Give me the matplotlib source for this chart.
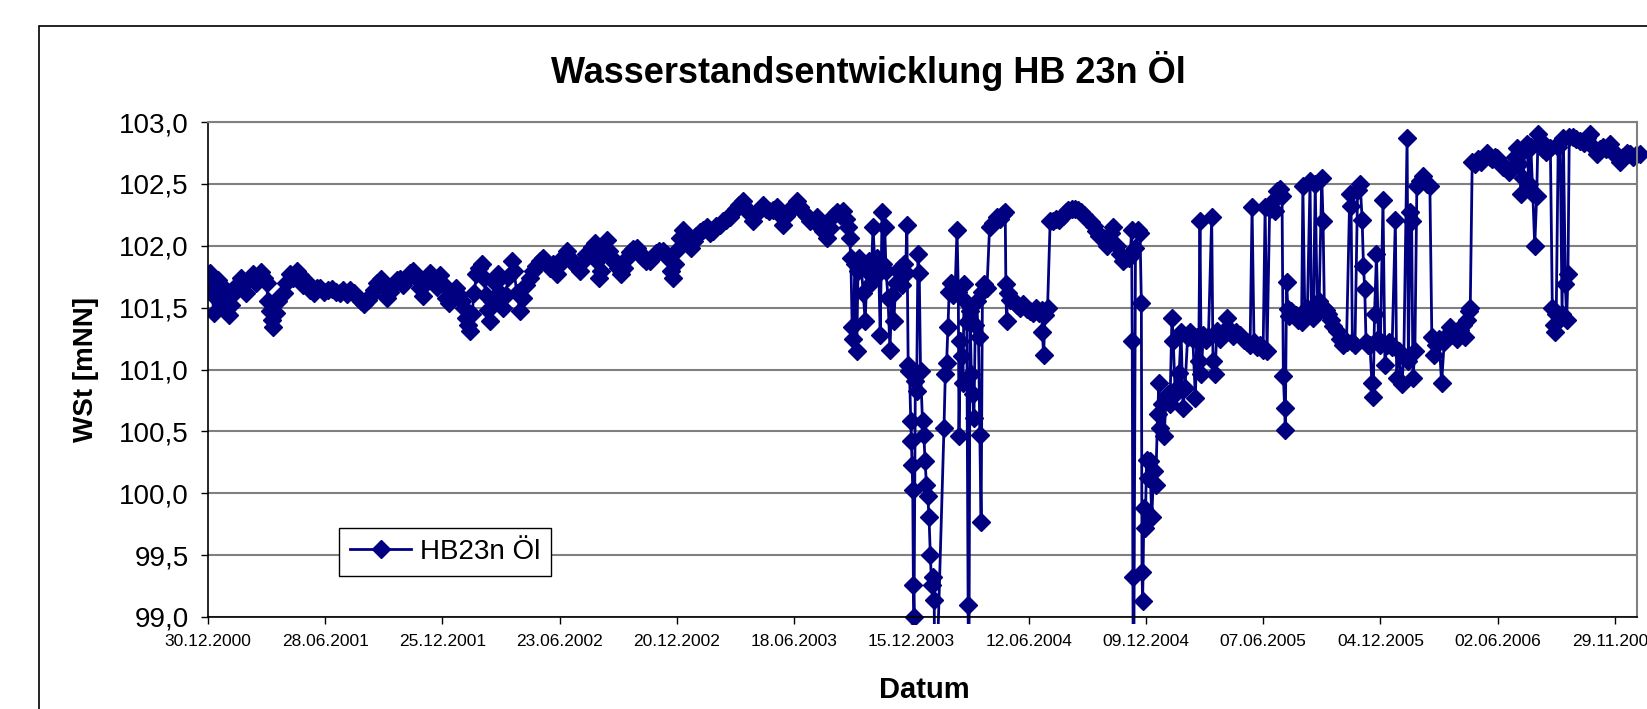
import matplotlib
matplotlib.use('Agg')
import matplotlib.pyplot as plt
import matplotlib.dates as mdates
from matplotlib.patches import Rectangle
from matplotlib.ticker import FuncFormatter
import pandas as pd

start = pd.Timestamp('2000-12-30')

# Tage seit 30.12.2000 / Wasserstand [mNN]
tage_1 = [0, 3, 6, 9, 12, 16, 20, 24, 28, 32, 36, 40, 45, 50, 54, 58, 63, 69, 74, 78,
          82, 86, 90, 92, 95, 98, 100, 104, 108, 112, 116, 120, 126, 131, 136, 141, 146, 152, 157, 162,
          167, 172, 178, 184, 190, 196, 202, 208, 213, 218, 224, 230, 235, 240, 245, 250, 255, 260, 265, 270,
          275, 280, 285, 290, 295, 300, 305, 310, 315, 320, 325, 330, 335, 341, 346, 351, 356, 360, 365]
wst_1 = [101.69, 101.78, 101.62, 101.46, 101.58, 101.72, 101.55, 101.50, 101.64, 101.44,
         101.52, 101.62, 101.68, 101.74, 101.70, 101.62, 101.73, 101.77, 101.70, 101.75,
         101.79, 101.74, 101.70, 101.55, 101.47, 101.40, 101.34, 101.46, 101.55, 101.60,
         101.62, 101.70, 101.77, 101.74, 101.80, 101.76, 101.68, 101.71, 101.64, 101.62,
         101.66, 101.66, 101.63, 101.64, 101.65, 101.63, 101.62, 101.64, 101.61, 101.64,
         101.62, 101.58, 101.55, 101.53, 101.56, 101.60, 101.64, 101.70, 101.73, 101.66,
         101.58, 101.63, 101.68, 101.72, 101.73, 101.68, 101.74, 101.78, 101.80, 101.74,
         101.66, 101.59, 101.70, 101.78, 101.72, 101.67, 101.76, 101.70, 101.58]

tage_2 = [370, 375, 380, 385, 390, 393, 396, 399, 402, 405, 409, 412, 416, 420, 423, 427, 430, 433, 436, 440,
          445, 449, 453, 457, 461, 466, 470, 474, 479, 483, 488, 494, 499, 504, 509, 515, 520, 525, 530, 536,
          541, 546, 551, 556, 561, 566, 571, 576, 581, 586, 590, 594, 597, 600, 603, 607, 612, 616, 620, 625,
          630, 634, 638, 643, 648, 653, 658, 663, 668, 673, 678, 683, 688, 693, 698, 703, 707, 711, 714, 717,
          721, 725, 729]
wst_2 = [101.54, 101.62, 101.66, 101.60, 101.55, 101.50, 101.42, 101.36, 101.31, 101.45,
         101.62, 101.77, 101.82, 101.85, 101.74, 101.60, 101.48, 101.39, 101.55, 101.70,
         101.77, 101.62, 101.50, 101.60, 101.75, 101.88, 101.80, 101.62, 101.47, 101.58,
         101.68, 101.74, 101.80, 101.84, 101.88, 101.90, 101.86, 101.82, 101.85, 101.77,
         101.85, 101.92, 101.96, 101.90, 101.86, 101.83, 101.80, 101.88, 101.93, 101.96,
         101.99, 102.02, 101.88, 101.74, 101.80, 101.95, 102.05, 101.96, 101.90, 101.86,
         101.82, 101.77, 101.82, 101.90, 101.95, 101.97, 101.98, 101.94, 101.90, 101.88,
         101.88, 101.91, 101.94, 101.96, 101.96, 101.93, 101.90, 101.80, 101.74, 101.85,
         101.97, 102.06, 102.13]

tage_3 = [733, 738, 742, 746, 750, 755, 760, 766, 770, 775, 780, 786, 791, 796, 801, 806, 811, 816, 822, 827,
          832, 837, 842, 847, 852, 857, 862, 868, 873, 878, 883, 888, 893, 898, 904, 909, 914, 919, 924, 930,
          935, 940, 945, 950, 955, 960, 965, 970, 975, 979, 983]
wst_3 = [102.08, 102.02, 101.98, 102.04, 102.08, 102.11, 102.13, 102.15, 102.10, 102.12,
         102.16, 102.17, 102.20, 102.21, 102.23, 102.27, 102.30, 102.33, 102.36, 102.30,
         102.26, 102.20, 102.26, 102.30, 102.33, 102.30, 102.28, 102.29, 102.31, 102.25,
         102.17, 102.24, 102.28, 102.32, 102.36, 102.31, 102.27, 102.24, 102.20, 102.20,
         102.23, 102.19, 102.12, 102.06, 102.14, 102.24, 102.27, 102.25, 102.28, 102.22,
         102.15]

tage_4 = [985, 987, 989, 991, 993, 996, 998, 1000, 1003, 1006, 1009, 1012, 1015, 1018, 1021, 1024, 1027, 1030,
          1032, 1035, 1037, 1039, 1041, 1044, 1047, 1050, 1053, 1056, 1059, 1062, 1065, 1068, 1071, 1073, 1075,
          1077, 1079, 1080, 1081, 1082, 1083, 1084, 1086, 1088, 1090, 1092, 1094, 1097, 1099, 1101, 1103, 1105,
          1107, 1109, 1111, 1113, 1115, 1116, 1130, 1132, 1134, 1136, 1138, 1141, 1144, 1147, 1150, 1152, 1153,
          1155, 1157, 1159, 1161, 1163, 1165, 1167, 1168, 1170, 1172, 1174, 1176, 1178, 1180, 1183, 1185, 1187,
          1189, 1192, 1196, 1200, 1205, 1211, 1216, 1220, 1224, 1225, 1226, 1228, 1232, 1237, 1242, 1247, 1252,
          1257, 1262, 1267, 1272, 1276, 1280, 1281, 1283, 1285, 1289, 1293, 1297, 1302, 1307, 1312, 1317, 1321,
          1326, 1331, 1336, 1341, 1345, 1350, 1355, 1360, 1364, 1368, 1374, 1380, 1386, 1390, 1395, 1400, 1405,
          1410, 1414, 1416]
wst_4 = [102.06, 101.90, 101.34, 101.25, 101.85, 101.15, 101.80, 101.90, 101.82, 101.62,
         101.39, 101.80, 101.88, 101.70, 102.15, 101.84, 101.90, 101.78, 101.28, 102.27,
         101.85, 102.15, 101.80, 101.58, 101.16, 101.60, 101.39, 101.70, 101.80, 101.82,
         101.68, 101.85, 101.78, 102.17, 101.04, 100.99, 100.58, 100.42, 100.23, 100.03,
         99.26, 99.00, 100.91, 100.83, 101.93, 101.78, 100.99, 100.58, 100.47, 100.26,
         100.07, 99.98, 99.81, 99.50, 99.26, 99.32, 99.14, 98.00, 100.53, 100.96,
         101.05, 101.34, 101.63, 101.70, 101.60, 101.63, 102.13, 101.63, 100.46, 101.23,
         101.11, 100.89, 101.69, 101.55, 101.38, 99.10, 98.00, 101.47, 100.96, 100.80,
         100.61, 101.36, 101.55, 101.26, 100.47, 99.77, 101.63, 101.69, 101.66, 102.15,
         102.18, 102.23, 102.22, 102.26, 102.27, 101.69, 101.39, 101.62, 101.56, 101.55,
         101.52, 101.50, 101.53, 101.49, 101.47, 101.46, 101.50, 101.46, 101.48, 101.30,
         101.12, 101.44, 101.50, 102.20, 102.20, 102.22, 102.21, 102.24, 102.27, 102.29,
         102.30, 102.30, 102.29, 102.27, 102.25, 102.22, 102.19, 102.16, 102.12, 102.08,
         102.06, 102.00, 102.10, 102.15, 102.00, 101.93, 101.88, 101.90, 101.90, 101.92]

tage_5 = [1418, 1419, 1420, 1421, 1424, 1428, 1431, 1433, 1434, 1435, 1437, 1439, 1441, 1443, 1446, 1449, 1452,
          1455, 1458, 1460, 1462, 1465, 1468, 1471, 1474, 1477, 1480, 1482, 1485, 1488, 1491, 1494, 1497, 1500,
          1504, 1508, 1512, 1516, 1518, 1521, 1523, 1525, 1528, 1532, 1536, 1541, 1543, 1546, 1549, 1553, 1558,
          1564, 1569, 1574, 1579, 1585, 1590, 1595, 1600, 1603, 1606, 1610, 1615, 1620, 1623, 1626, 1630, 1635,
          1638, 1641, 1646, 1649, 1651, 1653, 1654, 1656, 1658, 1660, 1663, 1666, 1670, 1674, 1679, 1681, 1684,
          1688, 1692, 1694, 1697, 1700, 1703, 1706, 1710, 1712, 1714, 1717, 1720, 1724, 1728, 1733, 1738, 1743,
          1748, 1753, 1755, 1757, 1761, 1765, 1769, 1772, 1774, 1776, 1778, 1781, 1784, 1787, 1789, 1791, 1794,
          1797, 1800, 1804, 1807, 1810, 1814, 1818, 1823, 1825]
wst_5 = [102.13, 101.23, 99.32, 98.00, 101.98, 102.13, 102.10, 101.54, 99.36, 99.13,
         99.88, 99.72, 100.27, 100.12, 100.26, 99.81, 100.18, 100.07, 100.64, 100.89,
         100.53, 100.72, 100.46, 100.77, 100.80, 100.72, 101.42, 101.23, 100.80, 100.85,
         100.97, 101.30, 100.69, 100.85, 101.26, 101.30, 101.25, 100.77, 101.26, 101.07,
         102.20, 100.96, 101.28, 101.24, 101.26, 102.23, 101.07, 100.96, 101.31, 101.25,
         101.30, 101.42, 101.32, 101.27, 101.30, 101.28, 101.24, 101.22, 101.20, 102.31,
         101.22, 101.18, 101.20, 101.16, 102.31, 101.15, 102.30, 102.36, 102.28, 102.44,
         102.46, 102.40, 100.95, 100.69, 100.51, 101.71, 101.49, 101.43, 101.47, 101.45,
         101.44, 101.40, 101.38, 102.48, 101.45, 101.50, 102.52, 101.48, 101.42, 102.50,
         101.50, 101.55, 102.55, 102.20, 101.50, 101.48, 101.45, 101.40, 101.35, 101.31,
         101.25, 101.20, 101.22, 102.42, 102.32, 101.22, 101.20, 102.45, 102.50, 102.21,
         101.84, 101.65, 101.22, 101.20, 101.20, 100.89, 100.78, 101.45, 101.93, 101.25,
         101.20, 102.37, 101.04, 101.20, 101.22, 101.18, 102.21, 100.93]

tage_6 = [1828, 1833, 1836, 1841, 1843, 1846, 1848, 1850, 1853, 1856, 1861, 1866, 1871, 1876, 1879, 1882, 1886,
          1890, 1894, 1898, 1903, 1907, 1912, 1917, 1922, 1927, 1930, 1933, 1936, 1938, 1941, 1945, 1950, 1955,
          1960, 1964, 1968, 1972, 1976, 1979, 1984, 1989, 1994, 1998, 2002, 2006, 2009, 2013, 2016, 2019, 2022,
          2025, 2028, 2031, 2034, 2037, 2040, 2042, 2046, 2050, 2055, 2061, 2064, 2066, 2068, 2070, 2073, 2076,
          2079, 2081, 2084, 2086, 2088, 2090, 2095, 2100, 2107, 2112, 2117, 2122, 2127, 2132, 2137, 2142, 2147,
          2153, 2158, 2163, 2168, 2173, 2178, 2183, 2188, 2193, 2199]
wst_6 = [101.15, 100.88, 101.10, 102.87, 101.07, 102.27, 102.20, 100.93, 101.15, 102.48,
         102.52, 102.56, 102.50, 102.48, 101.26, 101.12, 101.20, 101.25, 100.89, 101.22,
         101.28, 101.34, 101.28, 101.25, 101.32, 101.36, 101.26, 101.40, 101.47, 101.50,
         102.68, 102.66, 102.70, 102.68, 102.72, 102.75, 102.72, 102.70, 102.72, 102.71,
         102.68, 102.64, 102.62, 102.60, 102.62, 102.72, 102.79, 102.66, 102.42, 102.55,
         102.78, 102.82, 102.50, 102.80, 102.42, 102.00, 102.40, 102.90, 102.85, 102.78,
         102.76, 102.79, 101.50, 101.36, 101.30, 101.45, 102.80, 102.84, 101.45, 102.87,
         101.69, 101.40, 101.77, 102.88, 102.88, 102.86, 102.85, 102.83, 102.87, 102.90,
         102.80, 102.74, 102.78, 102.80, 102.78, 102.82, 102.76, 102.72, 102.68, 102.72,
         102.75, 102.74, 102.72, 102.73, 102.74]

teile = [(tage_1, wst_1), (tage_2, wst_2), (tage_3, wst_3),
         (tage_4, wst_4), (tage_5, wst_5), (tage_6, wst_6)]
df = pd.concat([pd.DataFrame({'tag': t, 'wst': w}) for t, w in teile], ignore_index=True)
df['datum'] = start + pd.to_timedelta(df['tag'], unit='D')

W, H = 1647, 709
fig = plt.figure(figsize=(W / 100, H / 100), dpi=100)
ax = fig.add_axes([208 / W, 1 - 617 / H, (1637 - 208) / W, (617 - 122) / H])

navy = '#000080'
line, = ax.plot(df['datum'], df['wst'], color=navy, lw=2, marker='D', ms=9,
                mec=navy, mfc=navy, label='HB23n Öl')
line.set_clip_path(Rectangle((0, -0.015), 1.01, 1.1, transform=ax.transAxes))

ax.set_ylim(99.0, 103.0)
ax.set_xlim(start, start + pd.Timedelta(days=2194))
ax.set_yticks([99.0 + 0.5 * i for i in range(9)])
ax.yaxis.set_major_formatter(FuncFormatter(lambda v, p: f'{v:.1f}'.replace('.', ',')))
ax.set_xticks(pd.date_range(start, periods=13, freq='180D'))
ax.xaxis.set_major_formatter(mdates.DateFormatter('%d.%m.%Y'))

ax.grid(axis='y', color='#808080', lw=1.5)
ax.set_axisbelow(True)
for s in ['top', 'right']:
    ax.spines[s].set_color('#808080')
    ax.spines[s].set_linewidth(1.5)
for s in ['left', 'bottom']:
    ax.spines[s].set_color('black')
    ax.spines[s].set_linewidth(1.2)

ax.tick_params(axis='y', length=5, width=1, pad=9, labelsize=20)
ax.tick_params(axis='x', length=5, width=1, pad=7, labelsize=12.5)
for lab in ax.get_yticklabels() + ax.get_xticklabels():
    lab.set_family(['Liberation Sans', 'DejaVu Sans'])

fig.text(868 / W, 1 - 71 / H, 'Wasserstandsentwicklung HB 23n Öl', ha='center', va='center',
         fontsize=26, fontweight='bold', family=['Liberation Sans', 'DejaVu Sans'])
fig.text(924 / W, 1 - 690 / H, 'Datum', ha='center', va='center',
         fontsize=21, fontweight='bold', family=['Liberation Sans', 'DejaVu Sans'])
fig.text(86 / W, 1 - 370 / H, 'WSt [mNN]', ha='center', va='center', rotation=90,
         fontsize=20, fontweight='bold', family=['Liberation Sans', 'DejaVu Sans'])

leg = ax.legend(loc='center', bbox_to_anchor=(445 / W, 1 - 552 / H), bbox_transform=fig.transFigure,
                fancybox=False, edgecolor='black', framealpha=1, handlelength=2.2,
                handletextpad=0.3, borderpad=0.4, borderaxespad=0,
                prop={'family': ['Liberation Sans', 'DejaVu Sans'], 'size': 20})
leg.get_frame().set_linewidth(1)
leg.get_lines()[0].set_markersize(9)

# Rahmen des Diagrammbereichs (rechts/unten abgeschnitten)
fig.patches.append(Rectangle((39 / W, -0.1), 1.2, 1 - 26 / H + 0.1, fill=False,
                             edgecolor='black', lw=1.2, transform=fig.transFigure, figure=fig))

fig.savefig('out.png', dpi=100)
